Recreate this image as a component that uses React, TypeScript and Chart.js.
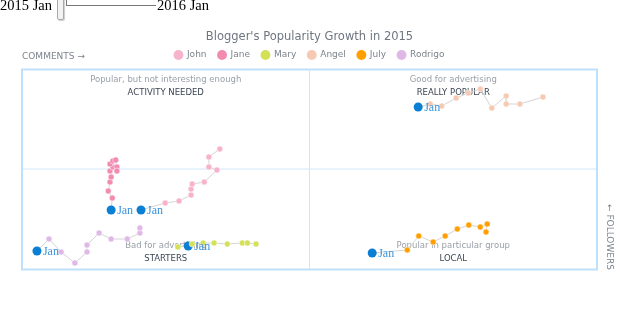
import React, { useEffect, useRef } from "react";
import { Chart, registerables } from "chart.js";

Chart.register(...registerables);

const seriesNames = ["John", "Jane", "Mary", "Angel", "July", "Rodrigo"];
const seriesColors = ["#f7b3cb", "#f28bb0", "#d4e157", "#f6c9b3", "#ffa000", "#dfb8e8"];

// comments (x) and followers (y), 0..100 scale
const johnX = [20.7, 24.9, 27.3, 29.4, 29.4, 29.6, 31.7, 33.9, 32.5, 32.5, 34.4];
const johnY = [29.5, 33, 34, 37, 40, 42.5, 43.5, 49.5, 51, 56, 60];
const janeX = [15.5, 15.7, 15.0, 15.3, 15.5, 15.3, 15.8, 15.3, 15.8, 16.3, 16.5, 16.5];
const janeY = [29.5, 35.5, 39, 43.5, 46, 49, 51, 52.5, 54, 54.5, 51, 49];
const maryX = [28.9, 27.1, 29.6, 31.5, 33.4, 35.7, 38.3, 39.2, 40.7];
const maryY = [11.5, 11, 12.5, 13, 13, 12.5, 13, 13, 12.5];
const angelX = [68.9, 71.0, 73.0, 75.5, 77.6, 79.7, 81.7, 84.2, 84.2, 86.6, 90.6];
const angelY = [81, 82.5, 81.5, 85.5, 88, 90, 80.5, 86.5, 82.5, 82.5, 86];
const julyX = [60.9, 67.0, 69.0, 71.5, 73.6, 75.7, 77.7, 79.7, 80.9, 80.7];
const julyY = [8, 9.5, 16.5, 13.5, 16.5, 20, 22, 21, 22.5, 18.5];
const rodrigoX = [2.6, 4.7, 6.8, 9.2, 11.3, 11.3, 13.4, 15.5, 18.3, 20.5, 20.5];
const rodrigoY = [9, 15, 8.5, 3, 8.5, 12, 18, 15, 15, 18, 20.5];

const seriesX = [johnX, janeX, maryX, angelX, julyX, rodrigoX];
const seriesY = [johnY, janeY, maryY, angelY, julyY, rodrigoY];

const startLabel = "Jan";
const chartTitle = "Blogger's Popularity Growth in 2015";
const xAxisLabel = "COMMENTS \u2192";
const yAxisLabel = "\u2190 FOLLOWERS";
// quadrants: top-left, top-right, bottom-left, bottom-right
const quadrantSubtitles = [
  "Popular, but not interesting enough",
  "Good for advertising",
  "Bad for advertising",
  "Popular in particular group",
];
const quadrantTitles = ["ACTIVITY NEEDED", "REALLY POPULAR", "STARTERS", "LOCAL"];
const sliderStart = "2015 Jan";
const sliderEnd = "2016 Jan";

const JAN_BLUE = "#0a7fd4";
const FONT = "'DejaVu Sans', sans-serif";

const decorPlugin = {
  id: "decor",
  beforeDatasetsDraw(chart: any) {
    const { ctx, chartArea } = chart;
    const { left, right, top, bottom } = chartArea;
    const xs = chart.scales.x;
    const ys = chart.scales.y;
    const cx = xs.getPixelForValue(50);
    const cy = ys.getPixelForValue(50);
    ctx.save();
    ctx.strokeStyle = "#cfe6fa";
    ctx.lineWidth = 1;
    ctx.beginPath();
    ctx.moveTo(cx, top);
    ctx.lineTo(cx, bottom);
    ctx.moveTo(left, cy);
    ctx.lineTo(right, cy);
    ctx.stroke();
    ctx.strokeStyle = "#bfe0fb";
    ctx.lineWidth = 2;
    ctx.strokeRect(left, top + 0.5, right - left, bottom - top);

    const qx = [(left + cx) / 2, (cx + right) / 2, (left + cx) / 2, (cx + right) / 2];
    const qy = [top + 10.5, top + 10.5, bottom - 23, bottom - 23];
    ctx.textAlign = "center";
    ctx.textBaseline = "middle";
    for (let i = 0; i < 4; i++) {
      ctx.font = `8.5px ${FONT}`;
      ctx.fillStyle = "#9aa0a8";
      ctx.fillText(quadrantSubtitles[i], qx[i], qy[i]);
      ctx.fillStyle = "#3c4654";
      ctx.fillText(quadrantTitles[i], qx[i], qy[i] + 13);
    }
    ctx.restore();
  },
  afterDatasetsDraw(chart: any) {
    const { ctx, chartArea } = chart;
    ctx.save();
    ctx.font = "12px serif";
    ctx.textAlign = "left";
    ctx.textBaseline = "middle";
    ctx.fillStyle = "#3a94dc";
    chart.data.datasets.forEach((_: any, i: number) => {
      const meta = chart.getDatasetMeta(i);
      const p = meta.data[0];
      if (p) ctx.fillText(startLabel, p.x + 6, p.y + 1);
    });
    ctx.font = `9px ${FONT}`;
    ctx.fillStyle = "#7d848c";
    ctx.fillText(xAxisLabel, chartArea.left, chartArea.top - 12);
    ctx.translate(chartArea.right + 12, chartArea.bottom + 1);
    ctx.rotate(Math.PI / 2);
    ctx.textAlign = "right";
    ctx.fillText(yAxisLabel, 0, 0);
    ctx.restore();
  },
};

export default function App() {
  const canvasRef = useRef<HTMLCanvasElement | null>(null);

  useEffect(() => {
    if (!canvasRef.current) return;
    const datasets = seriesNames.map((name, i) => ({
      label: name,
      data: seriesX[i].map((x, j) => ({ x, y: seriesY[i][j] })),
      showLine: true,
      borderColor: "#d4d4d4",
      borderWidth: 1,
      backgroundColor: seriesColors[i],
      pointBackgroundColor: (c: any) => (c.dataIndex === 0 ? JAN_BLUE : seriesColors[i]),
      pointBorderColor: (c: any) => (c.dataIndex === 0 ? JAN_BLUE : "#ffffff"),
      pointBorderWidth: (c: any) => (c.dataIndex === 0 ? 0 : 0.5),
      pointRadius: (c: any) => (c.dataIndex === 0 ? 4.5 : 3),
      tension: 0,
      clip: false as any,
    }));
    const chart = new Chart(canvasRef.current, {
      type: "scatter",
      data: { datasets },
      plugins: [decorPlugin],
      options: {
        animation: false,
        responsive: false,
        maintainAspectRatio: false,
        layout: { padding: { left: 22, right: 23, top: 33, bottom: 53 } },
        scales: {
          x: { type: "linear", min: 0, max: 100, display: false },
          y: { type: "linear", min: 0, max: 100, display: false },
        },
        plugins: {
          title: {
            display: true,
            text: chartTitle,
            color: "#6e7680",
            font: { family: FONT, size: 11.5, weight: "normal", lineHeight: 0.348 },
            padding: { top: 2, bottom: 0 },
          },
          legend: {
            display: true,
            maxHeight: 30,
            labels: {
              usePointStyle: true,
              boxHeight: 7,
              boxWidth: 8,
              padding: 11.5,
              color: "#7d848c",
              font: { family: FONT, size: 9 },
              generateLabels: (ch: any) =>
                ch.data.datasets.map((ds: any, i: number) => ({
                  text: ds.label,
                  fillStyle: seriesColors[i],
                  strokeStyle: seriesColors[i],
                  lineWidth: 0,
                  pointStyle: "circle",
                  hidden: false,
                  datasetIndex: i,
                  fontColor: "#7d848c",
                })),
            },
          },
          tooltip: { enabled: false },
        },
      },
    });
    return () => chart.destroy();
  }, []);

  return (
    <div style={{ position: "fixed", left: 0, top: 0, width: 620, height: 322, background: "#fff", overflow: "hidden" }}>
      <canvas ref={canvasRef} width={620} height={322} style={{ position: "absolute", left: 0, top: 0, width: 620, height: 322 }} />
      <div style={{ position: "absolute", left: 0, top: -3, fontFamily: "serif", fontSize: 14.5, whiteSpace: "nowrap", color: "#000" }}>
        {sliderStart}
      </div>
      <div style={{ position: "absolute", left: 57, top: -3, width: 5, height: 21, background: "#f2f2f2", border: "1px solid #a9a9a9", borderRadius: 2, boxShadow: "1px 1px 1px #ccc" }} />
      <div style={{ position: "absolute", left: 66, top: 0, width: 3, height: 5, borderLeft: "1px solid #777", borderBottom: "1px solid #777" }} />
      <div style={{ position: "absolute", left: 69, top: 5, width: 87, height: 1, background: "#777" }} />
      <div style={{ position: "absolute", left: 157, top: -3, fontFamily: "serif", fontSize: 14.5, whiteSpace: "nowrap", color: "#000" }}>
        {sliderEnd}
      </div>
    </div>
  );
}
